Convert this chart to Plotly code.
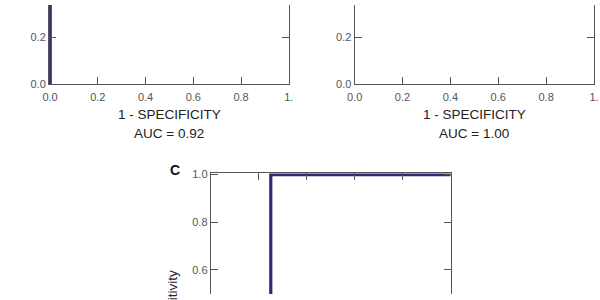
import plotly.graph_objects as go

# ---- data ----
tick_vals = [0.0, 0.2, 0.4, 0.6, 0.8, 1.0]
tick_text_x = ["0.0", "0.2", "0.4", "0.6", "0.8", "1."]
tick_text_y = ["0.0", "0.2", "0.4", "0.6", "0.8", "1.0"]

fpr_a = [0.0, 0.0, 0.4, 0.4, 1.0]
tpr_a = [0.0, 0.8, 0.8, 1.0, 1.0]

fpr_c = [0.0, 0.25, 0.25, 1.0]
tpr_c = [0.0, 0.0, 1.0, 1.0]

x_title = "1 - SPECIFICITY"
auc_labels = ["AUC = 0.92", "AUC = 1.00"]
panel_label_c = "C"
y_title = "Sensitivity"

# ---- layout helpers (pixels) ----
W, H = 600, 300
LINE = "#2b2b78"
AX = "#555555"
FONT = "Liberation Sans, Arial, sans-serif"


def xd(l, r):
    return [l / W, r / W]


def yd(top, bottom):
    return [(H - bottom) / H, (H - top) / H]


fig = go.Figure()
fig.add_trace(go.Scatter(x=fpr_a, y=tpr_a, mode="lines", xaxis="x", yaxis="y",
                         line=dict(color=LINE, width=3.5), showlegend=False, hoverinfo="skip"))
# panel B: its curve runs hidden under the left axis in the reference; keep the subplot alive
fig.add_trace(go.Scatter(x=[None], y=[None], mode="lines", xaxis="x2", yaxis="y2",
                         showlegend=False, hoverinfo="skip"))
fig.add_trace(go.Scatter(x=fpr_c, y=tpr_c, mode="lines", xaxis="x3", yaxis="y3",
                         line=dict(color=LINE, width=3.2), showlegend=False, hoverinfo="skip"))

common = dict(showgrid=False, zeroline=False, showline=True, linecolor=AX, linewidth=1.2,
              ticks="inside", ticklen=7, tickwidth=1, tickcolor=AX,
              tickfont=dict(family=FONT, size=11, color="#555555"),
              tickvals=tick_vals, tickmode="array")

ua = 244.0
fig.update_layout(
    xaxis=dict(domain=xd(42, 287), range=[-1 / ua, 1.0], anchor="y", ticklabelstandoff=2,
               ticktext=tick_text_x, mirror=False, **common),
    yaxis=dict(domain=yd(0, 82.3), range=[0, 82.3 / 244.0], anchor="x",
               ticktext=tick_text_y, mirror="ticks", **common),
    xaxis2=dict(domain=xd(354.3, 599), range=[0, 1.0], anchor="y2", ticklabelstandoff=2,
                ticktext=tick_text_x, mirror=False, **common),
    yaxis2=dict(domain=yd(0, 82.3), range=[0, 82.3 / 244.0], anchor="x2",
                ticktext=tick_text_y, mirror="ticks", **common),
    xaxis3=dict(domain=xd(207.3, 452.5), range=[0, 1.0], anchor="y3", side="top",
                showticklabels=False, ticktext=tick_text_x, mirror=False, **common),
    yaxis3=dict(domain=yd(174.8, 300), range=[1 - (300 - 176) / 247.5, 1 + 1.2 / 247.5],
                anchor="x3", ticktext=tick_text_y, mirror="ticks", **common),
)

ann = []
title_font = dict(family=FONT, size=13.5, color="#222222")
for cx, auc in zip([165.0, 476.5], auc_labels):
    ann.append(dict(text=x_title, xref="paper", x=cx / W, yref="paper", y=(H - 114) / H,
                    showarrow=False, font=title_font, xanchor="center", yanchor="middle"))
    ann.append(dict(text=auc, xref="paper", x=cx / W, yref="paper", y=(H - 133) / H,
                    showarrow=False, font=title_font, xanchor="center", yanchor="middle"))
ann.append(dict(text="<b>" + panel_label_c + "</b>", xref="paper", x=171 / W, yref="paper",
                y=(H - 171.5) / H, showarrow=False, xanchor="center", yanchor="middle",
                font=dict(family=FONT, size=14, color="#111111")))
ann.append(dict(text=y_title, xref="paper", x=168 / W, yref="paper", y=-7 / H,
                textangle=-90, showarrow=False, xanchor="center", yanchor="middle",
                font=title_font))

fig.update_layout(width=W, height=H, margin=dict(l=0, r=0, t=0, b=0),
                  paper_bgcolor="white", plot_bgcolor="white", annotations=ann)

fig.write_html("out.html")
